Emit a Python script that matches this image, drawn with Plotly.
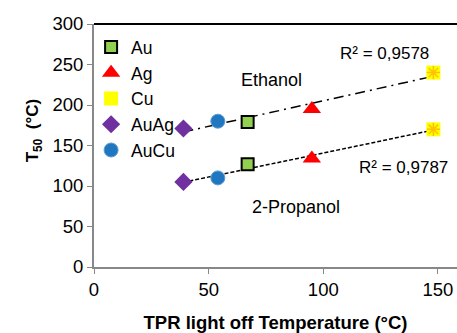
import numpy as np
import plotly.graph_objects as go

# Data
catalysts = ["Au", "Ag", "Cu", "AuAg", "AuCu"]
tpr_light_off = [67, 95, 148, 39, 54]
t50_ethanol = [179, 195, 240, 171, 180]
t50_propanol = [127, 134, 170, 105, 110]
r2_labels = ["R² = 0,9578", "R² = 0,9787"]

styles = {
    "Au": dict(symbol="square", size=12, color="#92D050", line=dict(color="black", width=2)),
    "Ag": dict(symbol="triangle-up", size=16, color="#FF0000", line=dict(width=0)),
    "Cu": dict(symbol="square", size=14, color="#FFFF00", line=dict(width=0)),
    "AuAg": dict(symbol="diamond", size=14, color="#7030A0", line=dict(width=0)),
    "AuCu": dict(symbol="circle", size=14, color="#1F77C0", line=dict(color="#5B9BD5", width=1)),
}

FONT = "Liberation Sans, Arial, sans-serif"
fig = go.Figure()

# trendlines
for ys, dash in [(t50_ethanol, "10px,5px,2px,5px"), (t50_propanol, "4px,2px")]:
    m, b = np.polyfit(tpr_light_off, ys, 1)
    xs = np.array([min(tpr_light_off), max(tpr_light_off)])
    fig.add_trace(go.Scatter(x=xs, y=m * xs + b, mode="lines",
                             line=dict(color="black", width=1.5, dash=dash),
                             showlegend=False, hoverinfo="skip"))

for i, c in enumerate(catalysts):
    fig.add_trace(go.Scatter(
        x=[tpr_light_off[i], tpr_light_off[i]],
        y=[t50_ethanol[i], t50_propanol[i]],
        mode="markers", name=c, marker=styles[c]))
    if c == "Cu":
        fig.add_trace(go.Scatter(
            x=[tpr_light_off[i], tpr_light_off[i]],
            y=[t50_ethanol[i], t50_propanol[i]],
            mode="markers", showlegend=False, hoverinfo="skip",
            marker=dict(symbol="asterisk-open", size=11, color="#FFC000",
                        line=dict(color="#FFC000", width=1.5))))

annots = [
    dict(x=77.6, y=231, text="Ethanol", size=18),
    dict(x=88, y=74, text="2-Propanol", size=18),
    dict(x=126.5, y=263, text=r2_labels[0], size=17),
    dict(x=135, y=123, text=r2_labels[1], size=17),
]
for a in annots:
    fig.add_annotation(x=a["x"], y=a["y"], text=a["text"], showarrow=False,
                       font=dict(family=FONT, color="black", size=a["size"]))

fig.add_annotation(xref="paper", yref="paper", x=-0.2, y=0.56,
                   text="<b>T<sub>50</sub>  (°C)</b>", textangle=-90, showarrow=False,
                   font=dict(family=FONT, size=17, color="black"))

fig.add_shape(type="line", xref="paper", yref="paper", x0=0, x1=1, y0=1, y1=1,
              line=dict(color="black", width=2))

fig.update_layout(
    width=457, height=333,
    margin=dict(l=94, r=0, t=24, b=66, autoexpand=False),
    paper_bgcolor="white", plot_bgcolor="white",
    font=dict(family=FONT, color="black", size=18.5),
    showlegend=True,
    legend=dict(x=-0.008, y=0.979, xanchor="left", yanchor="top",
                bgcolor="rgba(0,0,0,0)", font=dict(size=17.5), tracegroupgap=0,
                itemwidth=30),
    xaxis=dict(range=[0, 158.3], tickvals=[0, 50, 100, 150], showgrid=False, zeroline=False,
               showline=True, linecolor="#888888", linewidth=2, ticks="outside",
               tickcolor="#888888", ticklen=5,
               title=dict(text="<b>TPR light off Temperature (°C)</b>", font=dict(size=18.5), standoff=18)),
    yaxis=dict(range=[0, 300], tickvals=[0, 50, 100, 150, 200, 250, 300], showgrid=False,
               zeroline=False, showline=True, linecolor="#888888", linewidth=2,
               ticks="outside", tickcolor="#888888", ticklen=5),
)

fig.write_html("out.html", config={"displayModeBar": False},
               post_script="document.body.style.margin='0px';document.body.style.overflow='hidden';")
